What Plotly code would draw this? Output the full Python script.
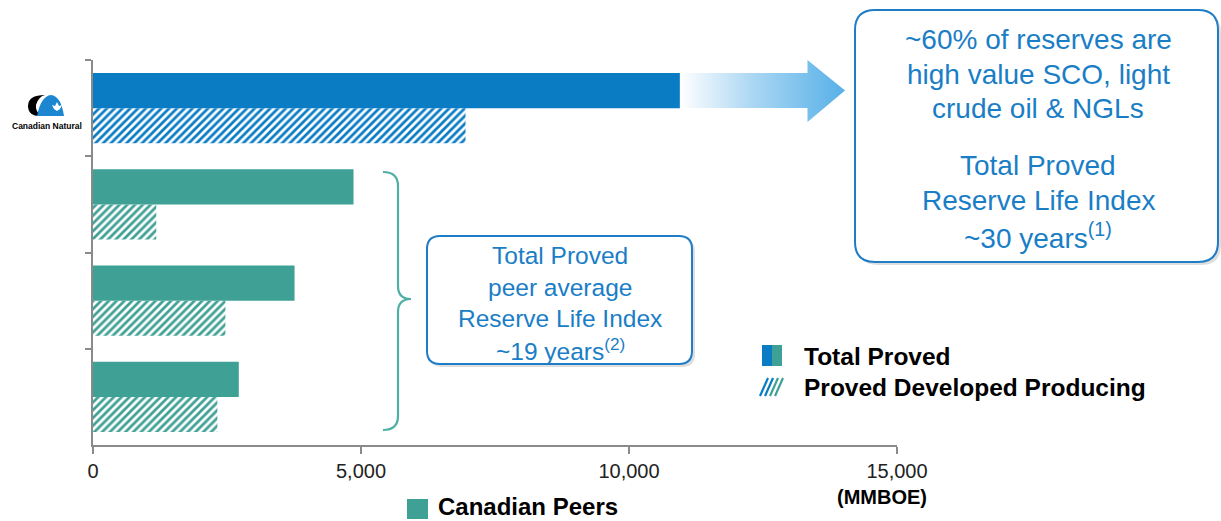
import plotly.graph_objects as go

# ---------------- data ----------------
companies = ["Canadian Natural", "Peer A", "Peer B", "Peer C"]
total_proved = [10950, 4860, 3760, 2720]
proved_dev_producing = [6950, 1180, 2470, 2320]
bar_colors = ["#0A7CC4", "#3FA196", "#3FA196", "#3FA196"]
x_ticks = [0, 5000, 10000, 15000]
x_tick_text = ["0", "5,000", "10,000", "15,000"]

BLUE = "#0A7CC4"
TEAL = "#3FA196"
TXT_BLUE = "#1A7EC6"

# ---------------- layout geometry (pixels) ----------------
W, H = 1221, 521
L, R, T, B = 93, 324, 60, 76
PW, PH = W - L - R, H - T - B


def px(x):
    return (x - L) / PW


def py(y):
    return (H - B - y) / PH


def path(cmds):
    out = []
    for c in cmds:
        if isinstance(c, str):
            out.append(c)
        else:
            out.append(f"{px(c[0]):.5f},{py(c[1]):.5f}")
    return " ".join(out)


def rrect(x0, y0, x1, y1, r):
    return path(["M", (x0 + r, y0), "L", (x1 - r, y0), "Q", (x1, y0), (x1, y0 + r),
                 "L", (x1, y1 - r), "Q", (x1, y1), (x1 - r, y1),
                 "L", (x0 + r, y1), "Q", (x0, y1), (x0, y1 - r),
                 "L", (x0, y0 + r), "Q", (x0, y0), (x0 + r, y0), "Z"])


fig = go.Figure()

fig.add_trace(go.Bar(
    y=companies, x=total_proved, orientation="h", name="Total Proved",
    marker=dict(color=bar_colors, line=dict(width=0)),
    showlegend=False, hoverinfo="skip",
))
fig.add_trace(go.Bar(
    y=companies, x=proved_dev_producing, orientation="h", name="Proved Developed Producing",
    marker=dict(color=bar_colors, line=dict(width=0),
                pattern=dict(shape="/", fgcolor=bar_colors, bgcolor="white",
                             size=5.5, solidity=0.5, fillmode="replace")),
    showlegend=False, hoverinfo="skip",
))

# gradient arrow leaving the Canadian Natural bar (y2 is in pixel units)
a0 = total_proved[0]
head_start = 13330
tip = 14030
fig.add_trace(go.Scatter(
    x=[a0, head_start, head_start, tip, head_start, head_start, a0, a0],
    y=[73, 73, 60, 90.5, 122, 108, 108, 73],
    mode="lines", fill="toself", line=dict(width=0),
    fillgradient=dict(type="horizontal",
                      colorscale=[[0, "rgba(255,255,255,1)"], [0.45, "#A9D6F3"], [1, "#56B0E8"]]),
    yaxis="y2", showlegend=False, hoverinfo="skip",
))

shapes = []
# shadows + boxes
for (x0, y0, x1, y1, r) in [(855, 10, 1218, 262, 20), (427, 236, 692, 364, 13)]:
    shapes.append(dict(type="path", xref="paper", yref="paper",
                       path=rrect(x0 + 3, y0 + 3, x1 + 3, y1 + 3, r),
                       fillcolor="rgba(0,0,0,0.13)", line=dict(width=0), layer="below"))
    shapes.append(dict(type="path", xref="paper", yref="paper",
                       path=rrect(x0, y0, x1, y1, r),
                       fillcolor="white", line=dict(color="#1E7DC6", width=2), layer="above"))

# curly brace
shapes.append(dict(type="path", xref="paper", yref="paper",
                   path=path(["M", (383, 172), "Q", (398, 172), (398, 186),
                              "L", (398, 286), "Q", (398, 299), (411, 299),
                              "Q", (398, 299), (398, 312),
                              "L", (398, 416), "Q", (398, 430), (383, 430)]),
                   line=dict(color="#4DAFA5", width=2.2)))

# legend icons
shapes += [
    dict(type="rect", xref="paper", yref="paper", x0=px(762), x1=px(772), y0=py(366), y1=py(345),
         fillcolor=BLUE, line=dict(width=0)),
    dict(type="rect", xref="paper", yref="paper", x0=px(772), x1=px(782), y0=py(366), y1=py(345),
         fillcolor=TEAL, line=dict(width=0)),
    dict(type="rect", xref="paper", yref="paper", x0=px(407), x1=px(428), y0=py(519), y1=py(499),
         fillcolor=TEAL, line=dict(width=0)),
]
for i, xs in enumerate([760, 765, 770, 775]):
    col = BLUE if i < 2 else TEAL
    shapes.append(dict(type="line", xref="paper", yref="paper",
                       x0=px(xs), y0=py(396), x1=px(xs + 8), y1=py(378),
                       line=dict(color=col, width=2.2)))

# Canadian Natural logo (approximation)
shapes.append(dict(type="path", xref="paper", yref="paper",
                   path=path(["M", (45, 95), "Q", (28, 95), (28, 106), "Q", (28, 116), (40, 116),
                              "L", (42, 116), "Q", (35, 112), (36, 105), "Q", (38, 97), (45, 95), "Z"]),
                   fillcolor="black", line=dict(width=0)))
shapes.append(dict(type="path", xref="paper", yref="paper",
                   path=path(["M", (37, 116), "Q", (41, 96), (51, 95), "Q", (61, 96), (64, 116), "Z"]),
                   fillcolor="#1C86D0", line=dict(width=0)))
shapes.append(dict(type="path", xref="paper", yref="paper",
                   path=path(["M", (57, 102), "L", (59, 106), "L", (62, 105), "L", (60, 109),
                              "L", (57, 111), "L", (54, 109), "L", (52, 105), "L", (55, 106), "Z"]),
                   fillcolor="white", line=dict(width=0)))

annotations = []


def txt(x, y, s, size, color=TXT_BLUE, bold=False, family="Liberation Sans, Arial", xanchor="center"):
    if bold:
        s = f"<b>{s}</b>"
    annotations.append(dict(x=px(x), y=py(y), xref="paper", yref="paper", text=s,
                            showarrow=False, xanchor=xanchor, yanchor="middle",
                            font=dict(size=size, color=color, family=family)))


for yy, s in zip([40, 74, 108], ["~60% of reserves are", "high value SCO, light", "crude oil & NGLs"]):
    txt(1038, yy, s, 28)
for yy, s in zip([165, 200, 236], ["Total Proved", "Reserve Life Index",
                                   "~30 years<sup>(1)</sup>"]):
    txt(1038, yy, s, 28)
for yy, s in zip([256, 287, 318, 349], ["Total Proved", "peer average", "Reserve Life Index",
                                        "~19 years<sup>(2)</sup>"]):
    txt(560, yy, s, 24.5)

txt(802, 356, "Total Proved", 24.5, color="black", bold=True, xanchor="left")
txt(802, 387, "Proved Developed Producing", 24.5, color="black", bold=True, xanchor="left")
txt(436, 506, "Canadian Peers", 24, color="black", bold=True, xanchor="left")
txt(882, 497, "(MMBOE)", 20, color="black", bold=True)
txt(47, 126, "Canadian Natural", 8.5, color="black", bold=True,
    family="Liberation Sans Narrow, Liberation Sans, Arial")

fig.update_layout(
    width=W, height=H,
    margin=dict(l=L, r=R, t=T, b=B, pad=0),
    paper_bgcolor="white", plot_bgcolor="white",
    barmode="group", bargap=0.27, bargroupgap=0,
    xaxis=dict(range=[0, 15000], tickvals=x_ticks, ticktext=x_tick_text,
               showgrid=False, zeroline=False, showline=True, linecolor="#8A8A8A", linewidth=2,
               ticks="outside", ticklen=7, tickcolor="#8A8A8A", tickwidth=1.5,
               tickfont=dict(size=20, color="#222222",
                             family="Liberation Sans Narrow, Liberation Sans, Arial"),
               fixedrange=True),
    yaxis=dict(categoryorder="array", categoryarray=companies, autorange="reversed",
               showticklabels=False, showgrid=False, zeroline=False,
               showline=True, linecolor="#8A8A8A", linewidth=2,
               ticks="outside", tickson="boundaries", ticklen=6, tickcolor="#8A8A8A", tickwidth=1.5),
    yaxis2=dict(overlaying="y", range=[H - B, T], visible=False, fixedrange=True),
    shapes=shapes,
    annotations=annotations,
    showlegend=False,
)

fig.write_html("out.html")
